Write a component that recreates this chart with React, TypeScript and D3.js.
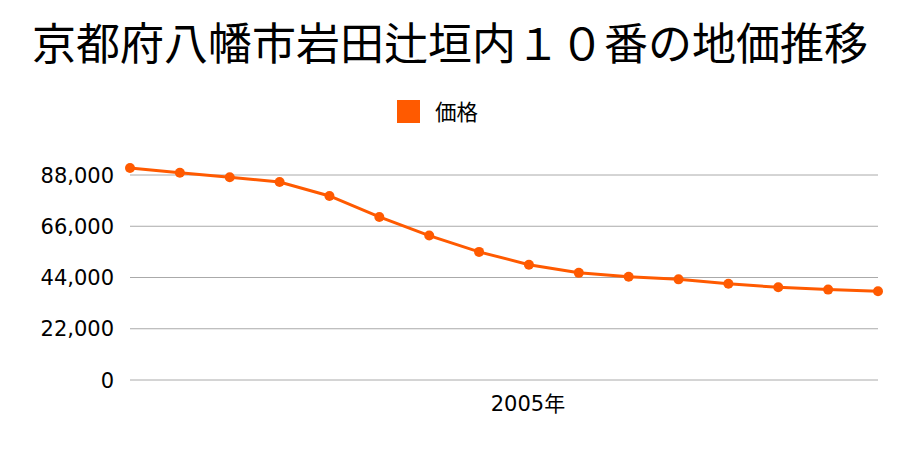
import React from "react";
import * as d3 from "d3";

const years = [1997, 1998, 1999, 2000, 2001, 2002, 2003, 2004, 2005, 2006, 2007, 2008, 2009, 2010, 2011, 2012];
const prices = [91000, 89000, 87000, 85000, 79000, 70000, 62000, 55000, 49500, 46000, 44300, 43200, 41300, 39800, 38800, 38100];
const yTicks = [0, 22000, 44000, 66000, 88000];
const xLabels = [{ year: 2005, label: "2005年" }];
const title = "京都府八幡市岩田辻垣内１０番の地価推移";
const legendLabel = "価格";

const W = 900;
const H = 450;
const color = "#ff5a00";
const font = "'DejaVu Sans', 'Noto Sans CJK JP', sans-serif";

export default function App() {
  const x = d3.scaleLinear().domain([years[0], years[years.length - 1]]).range([130, 878]);
  const y = d3.scaleLinear().domain([0, 88000]).range([380, 175]);
  const line = d3
    .line<number>()
    .x((_, i) => x(years[i]))
    .y((d) => y(d));
  const fmt = d3.format(",");
  return (
    <svg width={W} height={H} style={{ position: "absolute", left: 0, top: 0 }}>
      <rect width={W} height={H} fill="#fff" />
      <text x={450} y={60} textAnchor="middle" fontSize={44} fontFamily="'Noto Sans CJK JP', sans-serif" fill="#000">
        {title}
      </text>
      <rect x={397} y={100} width={23} height={23} fill={color} />
      <text x={435} y={119.5} fontSize={21.5} fontFamily="'Noto Sans CJK JP', sans-serif" fill="#000">
        {legendLabel}
      </text>
      {yTicks.map((t) => (
        <g key={t}>
          <line x1={130} x2={878} y1={y(t)} y2={y(t)} stroke="#aaa" strokeWidth={1} />
          <text x={114} y={y(t) + 7.5} textAnchor="end" fontSize={21} fontFamily={font} fill="#000">
            {fmt(t)}
          </text>
        </g>
      ))}
      {xLabels.map((l) => (
        <text key={l.year} x={x(l.year) - 1} y={411} textAnchor="middle" fontSize={21} fontFamily={font} fill="#000">
          {l.label}
        </text>
      ))}
      <path d={line(prices) || ""} fill="none" stroke={color} strokeWidth={3} />
      {prices.map((p, i) => (
        <circle key={i} cx={x(years[i])} cy={y(p)} r={5} fill={color} />
      ))}
    </svg>
  );
}
